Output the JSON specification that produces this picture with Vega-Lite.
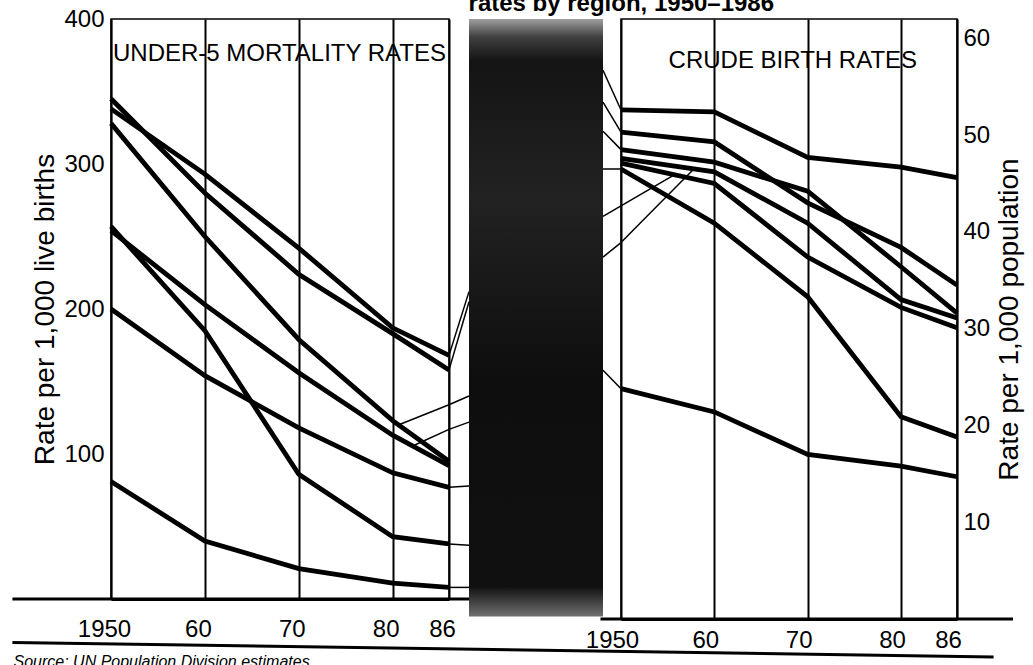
{
  "$schema": "https://vega.github.io/schema/vega-lite/v6.json",
  "background": "white",
  "padding": {"left": 10, "top": -8, "right": 0, "bottom": 0},
  "bounds": "flush",
  "spacing": 0,
  "config": {
    "font": "Liberation Sans",
    "view": {"stroke": "black", "strokeWidth": 1.5},
    "axis": {"labelColor": "black", "titleColor": "black", "labelFont": "Liberation Sans", "titleFont": "Liberation Sans", "titleFontWeight": "normal"},
    "title": {"color": "black"}
  },
  "title": {"text": "rates by region, 1950–1986", "fontSize": 24, "fontWeight": "bold", "anchor": "middle", "dx": 104, "offset": -10},
  "datasets": {
    "mortality": [
      {"region": "r1", "year": 1950, "rate": 345}, {"region": "r1", "year": 1960, "rate": 280}, {"region": "r1", "year": 1970, "rate": 224}, {"region": "r1", "year": 1980, "rate": 183}, {"region": "r1", "year": 1986, "rate": 158},
      {"region": "r2", "year": 1950, "rate": 338}, {"region": "r2", "year": 1960, "rate": 293}, {"region": "r2", "year": 1970, "rate": 242}, {"region": "r2", "year": 1980, "rate": 187}, {"region": "r2", "year": 1986, "rate": 168},
      {"region": "r3", "year": 1950, "rate": 328}, {"region": "r3", "year": 1960, "rate": 250}, {"region": "r3", "year": 1970, "rate": 179}, {"region": "r3", "year": 1980, "rate": 123}, {"region": "r3", "year": 1986, "rate": 95},
      {"region": "r4", "year": 1950, "rate": 257}, {"region": "r4", "year": 1960, "rate": 185}, {"region": "r4", "year": 1970, "rate": 86}, {"region": "r4", "year": 1980, "rate": 43}, {"region": "r4", "year": 1986, "rate": 38},
      {"region": "r5", "year": 1950, "rate": 254}, {"region": "r5", "year": 1960, "rate": 203}, {"region": "r5", "year": 1970, "rate": 156}, {"region": "r5", "year": 1980, "rate": 113}, {"region": "r5", "year": 1986, "rate": 92},
      {"region": "r6", "year": 1950, "rate": 200}, {"region": "r6", "year": 1960, "rate": 154}, {"region": "r6", "year": 1970, "rate": 118}, {"region": "r6", "year": 1980, "rate": 87}, {"region": "r6", "year": 1986, "rate": 77},
      {"region": "r7", "year": 1950, "rate": 81}, {"region": "r7", "year": 1960, "rate": 40}, {"region": "r7", "year": 1970, "rate": 21}, {"region": "r7", "year": 1980, "rate": 11}, {"region": "r7", "year": 1986, "rate": 8}
    ],
    "birth": [
      {"region": "r1", "year": 1950, "rate": 52.6}, {"region": "r1", "year": 1960, "rate": 52.4}, {"region": "r1", "year": 1970, "rate": 47.7}, {"region": "r1", "year": 1980, "rate": 46.7}, {"region": "r1", "year": 1986, "rate": 45.6},
      {"region": "r2", "year": 1950, "rate": 50.3}, {"region": "r2", "year": 1960, "rate": 49.3}, {"region": "r2", "year": 1970, "rate": 43.0}, {"region": "r2", "year": 1980, "rate": 38.4}, {"region": "r2", "year": 1986, "rate": 34.5},
      {"region": "r3", "year": 1950, "rate": 48.5}, {"region": "r3", "year": 1960, "rate": 47.2}, {"region": "r3", "year": 1970, "rate": 44.2}, {"region": "r3", "year": 1980, "rate": 36.4}, {"region": "r3", "year": 1986, "rate": 31.6},
      {"region": "r4", "year": 1950, "rate": 47.6}, {"region": "r4", "year": 1960, "rate": 46.2}, {"region": "r4", "year": 1970, "rate": 40.9}, {"region": "r4", "year": 1980, "rate": 33.0}, {"region": "r4", "year": 1986, "rate": 31.1},
      {"region": "r5", "year": 1950, "rate": 47.1}, {"region": "r5", "year": 1960, "rate": 45.0}, {"region": "r5", "year": 1970, "rate": 37.4}, {"region": "r5", "year": 1980, "rate": 32.2}, {"region": "r5", "year": 1986, "rate": 30.1},
      {"region": "r6", "year": 1950, "rate": 46.5}, {"region": "r6", "year": 1960, "rate": 40.9}, {"region": "r6", "year": 1970, "rate": 33.3}, {"region": "r6", "year": 1980, "rate": 20.9}, {"region": "r6", "year": 1986, "rate": 18.8},
      {"region": "r7", "year": 1950, "rate": 23.8}, {"region": "r7", "year": 1960, "rate": 21.4}, {"region": "r7", "year": 1970, "rate": 17.0}, {"region": "r7", "year": 1980, "rate": 15.8}, {"region": "r7", "year": 1986, "rate": 14.7}
    ],
    "leadLeftIn": [
      {"region": "r3", "year": 1980.6, "rate": 120}, {"region": "r3", "year": 1986, "rate": 134},
      {"region": "r5", "year": 1982.3, "rate": 106}, {"region": "r5", "year": 1986, "rate": 117}
    ],
    "leadGapL": [
      {"region": "r1", "end": "series", "rate": 158}, {"region": "r1", "end": "label", "rate": 205},
      {"region": "r2", "end": "series", "rate": 168}, {"region": "r2", "end": "label", "rate": 212},
      {"region": "r3", "end": "series", "rate": 134}, {"region": "r3", "end": "label", "rate": 140},
      {"region": "r5", "end": "series", "rate": 117}, {"region": "r5", "end": "label", "rate": 122},
      {"region": "r6", "end": "series", "rate": 77}, {"region": "r6", "end": "label", "rate": 78},
      {"region": "r4", "end": "series", "rate": 38}, {"region": "r4", "end": "label", "rate": 37},
      {"region": "r7", "end": "series", "rate": 8}, {"region": "r7", "end": "label", "rate": 8}
    ],
    "leadGapR": [
      {"region": "r1", "end": "label", "rate": 56.7}, {"region": "r1", "end": "series", "rate": 52.6},
      {"region": "r2", "end": "label", "rate": 53.4}, {"region": "r2", "end": "series", "rate": 50.3},
      {"region": "r3", "end": "label", "rate": 50.4}, {"region": "r3", "end": "series", "rate": 48.5},
      {"region": "r6", "end": "label", "rate": 46.5}, {"region": "r6", "end": "series", "rate": 46.5},
      {"region": "r5", "end": "label", "rate": 41.6}, {"region": "r5", "end": "series", "rate": 42.7},
      {"region": "r4", "end": "label", "rate": 37.4}, {"region": "r4", "end": "series", "rate": 38.9},
      {"region": "r7", "end": "label", "rate": 25.7}, {"region": "r7", "end": "series", "rate": 23.8}
    ],
    "leadRightIn": [
      {"region": "r5", "year": 1950, "rate": 42.7}, {"region": "r5", "year": 1955.7, "rate": 45.9},
      {"region": "r4", "year": 1950, "rate": 38.9}, {"region": "r4", "year": 1957.8, "rate": 46.5}
    ]
  },
  "hconcat": [
    {
      "width": 338,
      "height": 580,
      "layer": [
        {
          "data": {"name": "mortality"},
          "mark": {"type": "line", "color": "black", "strokeWidth": 4.8},
          "encoding": {
            "x": {"field": "year", "type": "quantitative", "scale": {"domain": [1950, 1986], "nice": false, "zero": false},
              "axis": {"values": [1950, 1960, 1970, 1980, 1986], "format": "d", "labelExpr": "datum.value == 1950 ? '1950' : substring(datum.label, 2)", "grid": true, "gridColor": "black", "gridWidth": 2, "gridOpacity": 1, "ticks": false, "domainColor": "black", "domainWidth": 3, "labelFontSize": 24, "labelPadding": 18, "labelOffset": -7, "labelFlush": false, "labelOverlap": false,
                "title": "Source: UN Population Division estimates.", "titleFontSize": 16, "titleFontStyle": "italic", "titleAnchor": "start", "titleAlign": "left", "titleX": -98, "titleY": 54, "titleBaseline": "top"}},
            "y": {"field": "rate", "type": "quantitative", "scale": {"domain": [0, 400], "nice": false},
              "axis": {"values": [100, 200, 300, 400], "ticks": false, "grid": false, "domainColor": "black", "domainWidth": 1.5, "labelFontSize": 24, "labelPadding": 7, "title": "Rate per 1,000 live births", "titleFontSize": 28, "titlePadding": 4}},
            "detail": {"field": "region"}
          }
        },
        {
          "data": {"name": "leadLeftIn"},
          "mark": {"type": "line", "color": "black", "strokeWidth": 1.5},
          "encoding": {"x": {"field": "year", "type": "quantitative"}, "y": {"field": "rate", "type": "quantitative"}, "detail": {"field": "region"}}
        },
        {
          "data": {"values": [{"label": "UNDER-5 MORTALITY RATES"}]},
          "mark": {"type": "text", "align": "left", "baseline": "middle", "font": "Liberation Sans", "fontSize": 24, "dx": 2, "color": "black"},
          "encoding": {"x": {"datum": 1950}, "y": {"datum": 376}, "text": {"field": "label"}}
        },
        {
          "data": {"values": [{}]},
          "mark": {"type": "rule", "color": "black", "strokeWidth": 3},
          "encoding": {"x": {"datum": 1939.5}, "x2": {"datum": 1988.5}, "y": {"datum": 0}}
        },
        {
          "data": {"values": [{}]},
          "mark": {"type": "rule", "color": "black", "strokeWidth": 3},
          "encoding": {"x": {"datum": 1939.5}, "x2": {"datum": 2044}, "y": {"datum": -30}, "y2": {"datum": -40}}
        }
      ]
    },
    {
      "width": 20,
      "height": 580,
      "view": {"stroke": null},
      "data": {"name": "leadGapL"},
      "mark": {"type": "line", "color": "black", "strokeWidth": 1.5},
      "encoding": {
        "x": {"field": "end", "type": "ordinal", "scale": {"type": "point", "domain": ["series", "label"], "padding": 0}, "axis": null},
        "y": {"field": "rate", "type": "quantitative", "scale": {"domain": [0, 400], "nice": false}, "axis": null},
        "detail": {"field": "region"}
      }
    },
    {
      "width": 134,
      "height": 580,
      "view": {"stroke": null},
      "data": {"values": [{}]},
      "mark": {"type": "rect", "color": {"gradient": "linear", "x1": 0, "y1": 0, "x2": 0, "y2": 1, "stops": [
        {"offset": 0, "color": "#a0a0a0"}, {"offset": 0.03, "color": "#404040"}, {"offset": 0.07, "color": "#141414"}, {"offset": 0.3, "color": "#222222"}, {"offset": 0.6, "color": "#0e0e0e"}, {"offset": 0.95, "color": "#101010"}, {"offset": 1, "color": "#707070"}]}},
      "encoding": {
        "x": {"datum": 0, "type": "quantitative", "scale": {"domain": [0, 1]}, "axis": null},
        "x2": {"datum": 1},
        "y": {"datum": -0.03, "type": "quantitative", "scale": {"domain": [0, 1]}, "axis": null},
        "y2": {"datum": 1}
      }
    },
    {
      "width": 18,
      "height": 600,
      "view": {"stroke": null},
      "data": {"name": "leadGapR"},
      "mark": {"type": "line", "color": "black", "strokeWidth": 1.5},
      "encoding": {
        "x": {"field": "end", "type": "ordinal", "scale": {"type": "point", "domain": ["label", "series"], "padding": 0}, "axis": null},
        "y": {"field": "rate", "type": "quantitative", "scale": {"domain": [0, 62], "nice": false}, "axis": null},
        "detail": {"field": "region"}
      }
    },
    {
      "width": 336,
      "height": 600,
      "layer": [
        {
          "data": {"name": "birth"},
          "mark": {"type": "line", "color": "black", "strokeWidth": 4.8},
          "encoding": {
            "x": {"field": "year", "type": "quantitative", "scale": {"domain": [1950, 1986], "nice": false, "zero": false},
              "axis": {"values": [1950, 1960, 1970, 1980, 1986], "format": "d", "labelExpr": "datum.value == 1950 ? '1950' : substring(datum.label, 2)", "grid": true, "gridColor": "black", "gridWidth": 2, "gridOpacity": 1, "ticks": false, "domainColor": "black", "domainWidth": 3, "labelFontSize": 24, "labelPadding": 9, "labelOffset": -9, "labelFlush": false, "labelOverlap": false, "title": null}},
            "y": {"field": "rate", "type": "quantitative", "scale": {"domain": [0, 62], "nice": false},
              "axis": {"orient": "right", "values": [10, 20, 30, 40, 50, 60], "ticks": false, "grid": false, "domainColor": "black", "domainWidth": 1.5, "labelFontSize": 24, "labelPadding": 6, "title": "Rate per 1,000 population", "titleAngle": 270, "titleBaseline": "top", "titleFontSize": 28, "titlePadding": 6}},
            "detail": {"field": "region"}
          }
        },
        {
          "data": {"name": "leadRightIn"},
          "mark": {"type": "line", "color": "black", "strokeWidth": 1.5},
          "encoding": {"x": {"field": "year", "type": "quantitative"}, "y": {"field": "rate", "type": "quantitative"}, "detail": {"field": "region"}}
        },
        {
          "data": {"values": [{"label": "CRUDE BIRTH RATES"}]},
          "mark": {"type": "text", "align": "left", "baseline": "middle", "font": "Liberation Sans", "fontSize": 24, "color": "black"},
          "encoding": {"x": {"datum": 1955.1}, "y": {"datum": 57.7}, "text": {"field": "label"}}
        },
        {
          "data": {"values": [{}]},
          "mark": {"type": "rule", "color": "black", "strokeWidth": 3},
          "encoding": {"x": {"datum": 1947.8}, "x2": {"datum": 1992}, "y": {"datum": 0}}
        }
      ]
    }
  ]
}
